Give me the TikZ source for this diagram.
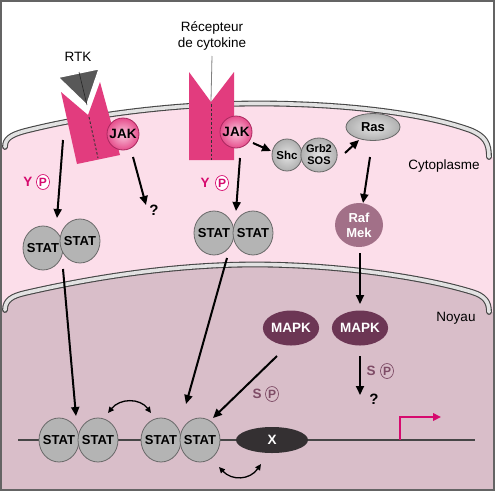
\documentclass[tikz,border=0pt]{standalone}
\usepackage{fontspec}
\setmainfont{Liberation Sans}
\usetikzlibrary{arrows.meta,shapes.geometric}
\definecolor{cyto}{RGB}{252,222,234}
\definecolor{nucl}{RGB}{217,190,201}
\definecolor{memfill}{RGB}{226,226,226}
\definecolor{memline}{RGB}{70,70,70}
\definecolor{rpink}{RGB}{226,60,126}
\definecolor{jakpink}{RGB}{230,78,140}
\definecolor{jaklight}{RGB}{250,200,222}
\definecolor{jakline}{RGB}{170,40,95}
\definecolor{statgray}{RGB}{180,180,180}
\definecolor{statline}{RGB}{105,105,105}
\definecolor{rafmek}{RGB}{162,112,136}
\definecolor{mapkc}{RGB}{108,54,84}
\definecolor{xcol}{RGB}{52,48,50}
\definecolor{mag}{RGB}{214,10,110}
\definecolor{spcol}{RGB}{126,76,102}
\definecolor{ligand}{RGB}{88,88,88}
\definecolor{framec}{RGB}{100,100,100}
\begin{document}
\begin{tikzpicture}[x=1pt,y=-1pt,
  lbl/.style={font=\fontsize{13.5}{16}\selectfont, inner sep=0pt, align=center},
  arr/.style={-{Triangle[length=9pt,width=8pt]}, line width=2pt, black},
  darr/.style={{Triangle[length=6pt,width=5.5pt]}-{Triangle[length=6pt,width=5.5pt]}, line width=1.3pt, black},
  statfont/.style={font=\bfseries\fontsize{13}{13}\selectfont, inner sep=0pt},
  statc/.style={ellipse, draw=statline, fill=statgray, line width=0.8pt, minimum width=40pt, minimum height=44pt, inner sep=0pt, label={[statfont]center:STAT}},
  jakc/.style={circle, draw=jakline, line width=0.8pt, inner color=jaklight, outer color=jakpink, minimum size=32pt, inner sep=0pt, font=\bfseries\fontsize{13.5}{13}\selectfont},
  grayball/.style={ellipse, draw=statline, line width=0.8pt, inner color=gray!22, outer color=gray!62, inner sep=0pt},
  darkov/.style={ellipse, inner sep=0pt, text=white, font=\bfseries\fontsize{13.5}{15}\selectfont, align=center},
  ylab/.style={font=\bfseries\fontsize{13.5}{13}\selectfont, inner sep=0pt},
  pcirc/.style={ellipse, draw=#1, line width=0.7pt, minimum width=13pt, minimum height=15pt, inner sep=0pt, text=#1, font=\bfseries\fontsize{12}{12}\selectfont},
  qlab/.style={font=\bfseries\fontsize{15}{15}\selectfont, inner sep=0pt},
  cellmem/.style={insert path={(5,147) .. controls (5,139) and (10,135) .. (25,131) .. controls (100,112) and (190,103) .. (265,103.5) .. controls (340,104) and (420,112) .. (470,130) .. controls (485,136) and (489,143) .. (489,157)}},
  nucmem/.style={insert path={(5,310) .. controls (5,300) and (12,296) .. (25,293) .. controls (90,278) and (170,265) .. (250,264.5) .. controls (330,264) and (420,276) .. (472,292) .. controls (485,296) and (489,302) .. (489,312)}}
]
\useasboundingbox (0,0) rectangle (495,491);
\fill[white] (0,0) rectangle (495,491);
% regions
\fill[cyto, cellmem] -- (493,157) -- (493,490) -- (2,490) -- (2,147) -- cycle;
\fill[nucl, nucmem] -- (493,312) -- (493,490) -- (2,490) -- (2,310) -- cycle;
% membranes
\draw[memline, line width=5.8pt, line cap=round, cellmem];
\draw[memfill, line width=3.6pt, line cap=round, cellmem];
\draw[memline, line width=5.8pt, line cap=round, nucmem];
\draw[memfill, line width=3.6pt, line cap=round, nucmem];
% frame
\draw[framec, line width=1.3pt] (1,1) rectangle (494,490);

% ---- RTK ----
\node[lbl] (rtklab) at (78,57) {RTK};
\fill[rpink] (61,92) -- (88,115) -- (100,82) -- (120,155) -- (77,164) -- cycle;
\draw[black!80, line width=0.9pt, dash pattern=on 2.5pt off 2pt] (89,117) -- (98,158);
\filldraw[fill=ligand, draw=white, line width=2.5pt, line join=miter] (57,77) -- (100,68) -- (87,106) -- cycle;
\draw[black!85, line width=0.6pt] (79,72) -- (87,105);
\node[jakc] (jak1) at (123,134) {JAK};

% ---- cytokine receptor ----
\node[lbl] (cytlab) at (212,36) {Récepteur\\de cytokine};
\fill[rpink] (189,72) -- (211,102) -- (234,72) -- (234,160) -- (189,160) -- cycle;
\coordinate (notch) at (211,101);
\draw[gray, line width=0.8pt] (cytlab.south |- 0,56) -- (notch);
\draw[black!80, line width=0.9pt, dash pattern=on 2.5pt off 2pt] (211,104) -- (211,160);
\node[jakc] (jak2) at (236,132) {JAK};

% ---- Y P labels ----
\node[ylab, text=mag] (y1) at (28,182) {Y};
\node[pcirc=mag, fill=white] (p1) at (43,182) {P};
\node[ylab, text=mag] (y2) at (205,183) {Y};
\node[pcirc=mag, fill=white] (p2) at (222,183) {P};

% ---- cytoplasmic STAT pairs ----
\node[statc] (sa1) at (43,248) {};
\node[statc] (sa2) at (80,241) {};
\node[statc] (sb1) at (214,233) {};
\node[statc] (sb2) at (253,233) {};

% ---- Shc, Grb2, Ras, Raf ----
\node[grayball, minimum width=30pt, minimum height=32pt, font=\bfseries\fontsize{11.5}{11}\selectfont] (shc) at (287,155) {Shc};
\node[grayball, minimum width=35pt, minimum height=34pt, font=\bfseries\fontsize{11}{12}\selectfont, align=center] (grb) at (319,155) {Grb2\\SOS};
\node[grayball, minimum width=54pt, minimum height=27pt, font=\bfseries\fontsize{13}{13}\selectfont] (ras) at (373,127) {Ras};
\node[darkov, fill=rafmek, minimum width=48pt, minimum height=44pt, font=\bfseries\fontsize{13}{15}\selectfont] (raf) at (359,225) {Raf\\Mek};
\node[lbl] (cytoplasme) at (444,166) {Cytoplasme};

% ---- nucleus ----
\node[lbl] (noyau) at (456,318) {Noyau};
\node[darkov, fill=mapkc, minimum width=55pt, minimum height=35pt] (mapk1) at (291,328) {MAPK};
\node[darkov, fill=mapkc, minimum width=55pt, minimum height=35pt] (mapk2) at (360,328) {MAPK};
\node[ylab, text=spcol] (s1) at (257,394) {S};
\node[pcirc=spcol] (p3) at (272,394) {P};
\node[ylab, text=spcol] (s2) at (371,371) {S};
\node[pcirc=spcol] (p4) at (387,371) {P};

% DNA
\coordinate (dnaL) at (18,440);
\coordinate (dnaR) at (475,440);
\draw[memline, line width=2.6pt] (dnaL) -- (dnaR);
\node[statc] (da1) at (59,440) {};
\node[statc] (da2) at (98,440) {};
\node[statc] (db1) at (161,440) {};
\node[statc] (db2) at (200,440) {};
\node[darkov, fill=xcol, minimum width=72pt, minimum height=26pt] (xnode) at (272,440) {X};

% transcription start
\coordinate (tss) at (400,440);
\coordinate (tssup) at (400,417);
\coordinate (tssend) at (441,417);
\draw[mag, line width=2pt, -{Triangle[length=8pt,width=7.5pt]}] (tss) -- (tssup) -- (tssend);

% ---- question marks ----
\node[qlab] (q1) at (154,210) {?};
\node[qlab] (q2) at (374,399) {?};

% ---- arrows ----
\coordinate (a1s) at (63,140);  \coordinate (a1e) at (57,218);
\draw[arr] (a1s) -- (a1e);
\coordinate (a2s) at (133,157); \coordinate (a2e) at (146,205);
\draw[arr] (a2s) -- (a2e);
\coordinate (a3s) at (240,158); \coordinate (a3e) at (236,211);
\draw[arr] (a3s) -- (a3e);
\coordinate (a4s) at (253,143); \coordinate (a4e) at (271,151);
\draw[arr] (a4s) -- (a4e);
\coordinate (a5s) at (345,153); \coordinate (a5e) at (359,140);
\draw[arr] (a5s) -- (a5e);
\coordinate (a6s) at (370,157); \coordinate (a6e) at (363,203);
\draw[arr] (a6s) -- (a6e);
\coordinate (a7s) at (360,253); \coordinate (a7e) at (360,304);
\draw[arr] (a7s) -- (a7e);
\coordinate (a8s) at (63,269);  \coordinate (a8e) at (76,416);
\draw[arr] (a8s) -- (a8e);
\coordinate (a9s) at (227,258); \coordinate (a9e) at (186,404);
\draw[arr] (a9s) -- (a9e);
\coordinate (a10s) at (277,356); \coordinate (a10e) at (213,418);
\draw[arr] (a10s) -- (a10e);
\coordinate (a11s) at (360,356); \coordinate (a11e) at (360,395);
\draw[arr] (a11s) -- (a11e);

% double arrows
\coordinate (d1s) at (108,413); \coordinate (d1e) at (151,413);
\draw[darr] (d1s) .. controls (120,398) and (140,398) .. (d1e);
\coordinate (d2s) at (219,467); \coordinate (d2e) at (261,464);
\draw[darr] (d2s) .. controls (232,481) and (250,480) .. (d2e);
\end{tikzpicture}
\end{document}
